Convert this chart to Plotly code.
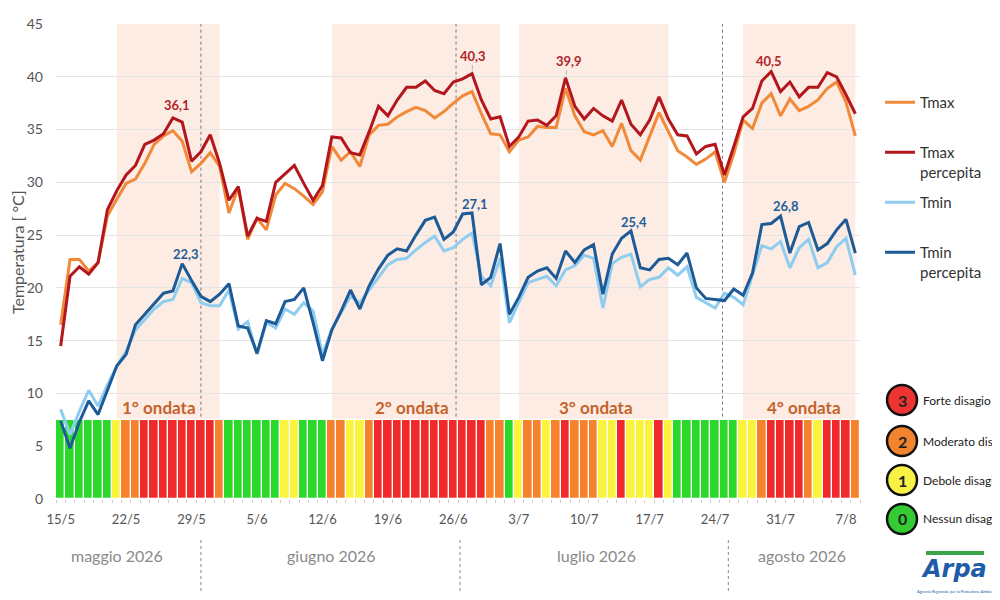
import pandas as pd
import plotly.graph_objects as go

# Giorni dal 15/5 all'8/8/2026
giorni = pd.date_range("2026-05-15", "2026-08-08", freq="D")

tmax = [16.5, 22.7, 22.7, 21.6, 22.4, 26.8, 28.4, 29.9, 30.3, 31.8,
        33.6, 34.4, 34.9, 33.9, 31.0, 31.8, 32.8, 31.5, 27.1, 29.5,
        24.6, 26.6, 25.5, 28.8, 29.9, 29.4, 28.7, 27.9, 29.1, 33.4,
        32.1, 32.9, 31.5, 34.5, 35.4, 35.5, 36.2, 36.7, 37.1, 36.8,
        36.1, 36.7, 37.5, 38.2, 38.6, 36.5, 34.6, 34.5, 32.9, 34.0,
        34.3, 35.3, 35.2, 35.2, 38.9, 36.3, 34.8, 34.5, 34.9, 33.4,
        35.6, 33.0, 32.1, 34.3, 36.6, 34.8, 33.0, 32.4, 31.7, 32.2,
        32.9, 30.0, 32.7, 35.9, 35.1, 37.5, 38.4, 36.3, 37.9, 36.8,
        37.2, 37.8, 38.9, 39.5, 37.6, 34.4]

tmax_perc = [14.5, 21.1, 22.0, 21.3, 22.4, 27.4, 29.2, 30.7, 31.6, 33.6,
             34.0, 34.6, 36.1, 35.7, 32.0, 32.9, 34.5, 31.8, 28.3, 29.6,
             24.9, 26.6, 26.3, 30.0, 30.8, 31.6, 29.9, 28.3, 29.7, 34.3,
             34.2, 32.8, 32.6, 34.8, 37.2, 36.3, 37.8, 39.0, 39.0, 39.6,
             38.7, 38.4, 39.5, 39.8, 40.3, 37.8, 36.0, 36.2, 33.4, 34.3,
             35.8, 35.9, 35.4, 36.3, 39.9, 37.2, 36.0, 37.0, 36.3, 35.8,
             37.8, 35.5, 34.5, 35.9, 38.1, 36.0, 34.5, 34.4, 32.7, 33.4,
             33.6, 30.7, 33.4, 36.2, 37.0, 39.6, 40.5, 38.6, 39.5, 38.1,
             39.0, 39.0, 40.4, 40.0, 38.3, 36.5]

tmin = [8.5, 6.1, 8.3, 10.3, 8.8, 10.8, 12.6, 14.0, 16.0, 17.0,
        18.0, 18.7, 18.9, 20.9, 20.5, 18.6, 18.3, 18.3, 19.8, 16.1,
        16.8, 13.7, 16.7, 16.2, 18.0, 17.5, 18.6, 17.8, 13.7, 16.1,
        17.6, 19.2, 18.6, 19.8, 21.1, 22.2, 22.7, 22.8, 23.6, 24.3,
        24.9, 23.5, 23.8, 24.6, 25.2, 21.1, 20.2, 22.8, 16.7, 18.6,
        20.5, 20.8, 21.1, 20.2, 21.7, 22.1, 23.1, 22.8, 18.1, 22.3,
        22.9, 23.2, 20.1, 20.8, 21.0, 21.9, 21.2, 22.0, 19.1, 18.6,
        18.1, 19.5, 19.1, 18.4, 21.1, 24.0, 23.7, 24.4, 21.9, 23.8,
        24.6, 21.9, 22.4, 23.9, 24.7, 21.2]

tmin_perc = [7.4, 4.8, 7.3, 9.3, 8.0, 10.4, 12.6, 13.7, 16.5, 17.5,
             18.5, 19.5, 19.7, 22.3, 20.7, 19.2, 18.7, 19.4, 20.4, 16.4,
             16.2, 13.8, 16.9, 16.6, 18.7, 18.9, 20.0, 16.7, 13.1, 16.0,
             17.8, 19.8, 18.0, 20.2, 21.8, 23.1, 23.7, 23.5, 25.0, 26.4,
             26.7, 24.6, 25.3, 27.0, 27.1, 20.3, 21.0, 24.2, 17.5, 19.1,
             21.0, 21.6, 21.9, 20.9, 23.5, 22.4, 23.6, 24.1, 19.4, 23.2,
             24.7, 25.4, 21.9, 21.7, 22.7, 22.8, 22.2, 23.3, 20.0, 19.0,
             18.9, 18.8, 19.9, 19.3, 21.4, 26.0, 26.1, 26.8, 23.3, 25.8,
             26.2, 23.6, 24.2, 25.5, 26.5, 23.3]

# livello di disagio giornaliero (0-3)
disagio = [0, 0, 0, 0, 0, 0, 1, 2, 2, 3, 3, 3, 3, 3, 3, 3, 3, 2,
           0, 0, 0, 0, 0, 0, 1, 1, 0, 0, 0, 2, 2, 1, 1, 2,
           3, 3, 3, 3, 3, 3, 3, 3, 3, 3, 3, 3, 2, 2,
           0, 1, 2, 2, 1, 2, 3, 2, 2, 2, 1, 1, 3, 1, 1, 1, 3, 1,
           0, 0, 0, 0, 0, 0, 0, 1, 1, 2, 3, 3, 3, 3, 2, 1, 3, 3, 3, 2]

tick_giorni = pd.date_range("2026-05-15", "2026-08-07", freq="7D")
tick_testi = ["15/5", "22/5", "29/5", "5/6", "12/6", "19/6", "26/6",
              "3/7", "10/7", "17/7", "24/7", "31/7", "7/8"]

ondate = [("1° ondata", "2026-05-21", "2026-06-01"),
          ("2° ondata", "2026-06-13", "2026-07-01"),
          ("3° ondata", "2026-07-03", "2026-07-19"),
          ("4° ondata", "2026-07-27", "2026-08-08")]

mesi = ["maggio 2026", "giugno 2026", "luglio 2026", "agosto 2026"]

livelli = ["Forte disagio", "Moderato disagio", "Debole disagio", "Nessun disagio"]

# picchi etichettati: (serie, giorno)
picchi = [("tmax_perc", "2026-05-27"), ("tmin_perc", "2026-05-28"),
          ("tmax_perc", "2026-06-28"), ("tmin_perc", "2026-06-28"),
          ("tmax_perc", "2026-07-08"), ("tmin_perc", "2026-07-15"),
          ("tmax_perc", "2026-07-30"), ("tmin_perc", "2026-07-31")]

serie = {"tmax": tmax, "tmax_perc": tmax_perc, "tmin": tmin, "tmin_perc": tmin_perc}

# stile
FONT = "Lato"
colori_disagio = {0: "#2bd92b", 1: "#faf53c", 2: "#f6822c", 3: "#f02a2a"}
colori_cerchi = {3: "#ee3333", 2: "#f2842e", 1: "#f8f246", 0: "#33cc33"}
ALTEZZA_BARRE = 7.45

# la pagina html ha 8px di margine: la figura viene spostata di 8px
OFF = 8
W, H = 1000 - OFF, 600 - OFF
L, R, T, B = 56 - OFF, 140, 24 - OFF, 101
PW, PH = W - L - R, H - T - B


def px(x):
    # x in pixel della finestra -> coordinate paper
    return (x - OFF - L) / PW


def py(y):
    return (H - B - (y - OFF)) / PH


fig = go.Figure()

fig.add_trace(go.Bar(
    x=giorni, y=[ALTEZZA_BARRE] * len(giorni),
    marker=dict(color=[colori_disagio[d] for d in disagio],
                line=dict(color="white", width=1.2)),
    showlegend=False, hoverinfo="skip"))

linee = [("tmax", "Tmax<br>\u00a0", "#f08a3a"),
         ("tmax_perc", "Tmax<br>percepita", "#b3161c"),
         ("tmin", "Tmin<br>\u00a0", "#8fcdf0"),
         ("tmin_perc", "Tmin<br>percepita", "#1d5a96")]
for chiave, nome, colore in linee:
    fig.add_trace(go.Scatter(x=giorni, y=serie[chiave], mode="lines", name=nome,
                             legendgroup=chiave,
                             line=dict(color=colore, width=3)))

shapes = []
annotations = []

# fasce delle ondate di calore
for testo, inizio, fine in ondate:
    shapes.append(dict(type="rect", xref="x", yref="y", x0=inizio, x1=fine,
                       y0=0, y1=45, fillcolor="#fcece3", line_width=0, layer="below"))

ondate_testo_x = ["2026-05-25 12:00", "2026-06-21 13:00", "2026-07-11 05:00", "2026-08-02 12:00"]
for (testo, _, _), xt in zip(ondate, ondate_testo_x):
    annotations.append(dict(x=xt, y=8.7, xref="x", yref="y", text="<b>%s</b>" % testo,
                            showarrow=False, xanchor="center",
                            font=dict(family=FONT, size=17, color="#c4632c")))

# separatori tratteggiati
for xs in ["2026-05-30", "2026-06-26 07:00", "2026-07-24 19:00"]:
    shapes.append(dict(type="line", xref="x", yref="y", x0=xs, x1=xs, y0=7.8, y1=45,
                       line=dict(color="#777", width=1, dash="dot"), layer="between"))
for xs in ["2026-05-30", "2026-06-26 17:00", "2026-07-25 10:00"]:
    shapes.append(dict(type="line", xref="x", yref="paper", x0=xs, x1=xs,
                       y0=py(540), y1=py(593), line=dict(color="#888", width=1, dash="dot")))

mesi_x = ["2026-05-21", "2026-06-13", "2026-07-11 07:00", "2026-08-02 07:00"]
for testo, xm in zip(mesi, mesi_x):
    annotations.append(dict(x=xm, y=py(567), xref="x", yref="paper", text=testo,
                            showarrow=False, xanchor="center",
                            font=dict(family=FONT, size=16, color="#8a8a8a")))

# etichette dei picchi
scarti = [(4, -13), (4, -10), (1, -18), (3, -9), (3, -17), (3, -9), (-2, -11), (5, -10)]
for (chiave, giorno), (dx, dy) in zip(picchi, scarti):
    i = list(giorni).index(pd.Timestamp(giorno))
    v = serie[chiave][i]
    col = "#b0232a" if chiave.startswith("tmax") else "#235d96"
    annotations.append(dict(x=giorno, y=v, xref="x", yref="y",
                            text="<b>%s</b>" % ("%.1f" % v).replace(".", ","),
                            showarrow=True, arrowhead=0, arrowwidth=0.8, arrowcolor="#aaa",
                            standoff=3, ax=dx, ay=dy,
                            font=dict(family=FONT, size=13, color=col)))

# titolo asse y, a ridosso del bordo sinistro
annotations.append(dict(x=px(17), y=py(252), xref="paper", yref="paper",
                        text="Temperatura [ °C]", textangle=-90, showarrow=False,
                        xanchor="center", yanchor="middle",
                        font=dict(family=FONT, size=16, color="#555")))

# legenda del disagio
for k, (testo, yc) in enumerate(zip(livelli, [400, 441, 480, 519])):
    liv = 3 - k
    shapes.append(dict(type="circle", xref="paper", yref="paper",
                       xsizemode="pixel", ysizemode="pixel",
                       xanchor=px(902), yanchor=py(yc), x0=-15, x1=15, y0=-15, y1=15,
                       fillcolor=colori_cerchi[liv], line=dict(color="#111", width=2.5)))
    annotations.append(dict(x=px(902), y=py(yc), xref="paper", yref="paper",
                            text="<b>%d</b>" % liv, showarrow=False,
                            xanchor="center", yanchor="middle",
                            font=dict(family=FONT, size=16, color="#222")))
    annotations.append(dict(x=px(921), y=py(yc), xref="paper", yref="paper",
                            text=testo, showarrow=False, xanchor="left", yanchor="middle",
                            font=dict(family=FONT, size=12, color="#222")))

# logo
shapes.append(dict(type="rect", xref="paper", yref="paper", x0=px(926), x1=px(984),
                   y0=py(555), y1=py(551), fillcolor="#3aa54a", line_width=0))
annotations.append(dict(x=px(954), y=py(569), xref="paper", yref="paper",
                        text="<b><i>Arpa</i></b>", showarrow=False,
                        xanchor="center", yanchor="middle",
                        font=dict(family="DejaVu Sans", size=24, color="#1f5ca8")))
annotations.append(dict(x=px(958), y=py(591), xref="paper", yref="paper",
                        text="Agenzia Regionale per la Protezione Ambientale", showarrow=False,
                        xanchor="center", yanchor="middle",
                        font=dict(family=FONT, size=4, color="#1f5ca8")))

fig.update_layout(
    width=W, height=H,
    margin=dict(l=L, r=R, t=T, b=B, autoexpand=False),
    paper_bgcolor="white", plot_bgcolor="white",
    bargap=0,
    font=dict(family=FONT, color="#555"),
    shapes=shapes, annotations=annotations,
    legend=dict(x=px(880), y=py(86), xanchor="left", yanchor="top",
                font=dict(family=FONT, size=15, color="#333"),
                traceorder="grouped", tracegroupgap=8, valign="top"),
    xaxis=dict(type="date", range=["2026-05-14 12:00", "2026-08-08 12:00"],
               tickmode="array", tickvals=tick_giorni, ticktext=tick_testi,
               tickfont=dict(family=FONT, size=13, color="#555"), automargin=False,
               showgrid=False, zeroline=False, ticks="", ticklabelstandoff=11,
               minor=dict(ticks="outside", ticklen=3, tickcolor="#ccc",
                          tick0="2026-05-14 12:00", dtick=86400000)),
    yaxis=dict(range=[0, 45], dtick=5, gridcolor="#e4e4e4", zeroline=False,
               automargin=False,
               tickfont=dict(family=FONT, size=14, color="#555"), ticklabelstandoff=12),
)

fig.write_html("out.html")
